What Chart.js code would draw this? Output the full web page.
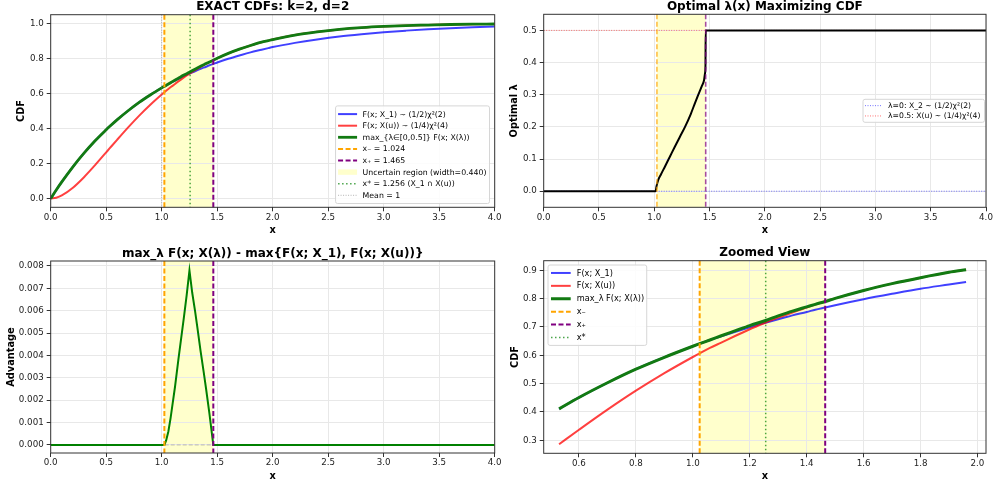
<!DOCTYPE html>
<html>
<head>
<meta charset="utf-8">
<script src="https://cdn.jsdelivr.net/npm/chart.js@4/dist/chart.umd.min.js"></script>
<style>
  html, body { margin: 0; padding: 0; background: #fff; overflow: hidden; width: 993px; height: 486px; position: relative; }
  canvas { position: absolute; }
</style>
</head>
<body>
<canvas id="cdf"  width="510" height="243" style="left:0px;top:0px"></canvas>
<canvas id="lam"  width="510" height="243" style="left:496px;top:0px"></canvas>
<canvas id="adv"  width="510" height="243" style="left:0px;top:243px"></canvas>
<canvas id="zoom" width="510" height="243" style="left:496px;top:243px"></canvas>
<script>
// ---- data -------------------------------------------------------------
const xGrid   = [0, 0.05, 0.1, 0.2, 0.3, 0.4, 0.5, 0.53, 0.6, 0.7, 0.8, 0.9, 1.0, 1.024, 1.06, 1.1, 1.15, 1.2, 1.25, 1.3, 1.35, 1.4, 1.43, 1.465, 1.5, 1.6, 1.7, 1.8, 1.9, 1.96, 2.0, 2.2, 2.4, 2.6, 2.8, 3.0, 3.2, 3.4, 3.6, 3.8, 4.0];
const cdfX1   = [0, 0.049, 0.095, 0.181, 0.259, 0.330, 0.393, 0.411, 0.451, 0.503, 0.551, 0.593, 0.632, 0.641, 0.654, 0.667, 0.683, 0.699, 0.714, 0.727, 0.741, 0.753, 0.761, 0.769, 0.777, 0.798, 0.817, 0.835, 0.850, 0.859, 0.865, 0.889, 0.909, 0.926, 0.939, 0.950, 0.959, 0.967, 0.973, 0.978, 0.982];
const cdfXu   = [0, 0.005, 0.018, 0.062, 0.122, 0.191, 0.264, 0.286, 0.337, 0.408, 0.475, 0.537, 0.594, 0.607, 0.626, 0.645, 0.669, 0.692, 0.713, 0.733, 0.751, 0.769, 0.779, 0.790, 0.801, 0.829, 0.853, 0.874, 0.893, 0.902, 0.908, 0.934, 0.952, 0.966, 0.976, 0.983, 0.988, 0.991, 0.994, 0.996, 0.997];
const cdfMax  = [0, 0.049, 0.095, 0.181, 0.259, 0.330, 0.393, 0.411, 0.451, 0.503, 0.551, 0.593, 0.632, 0.641, 0.654, 0.669, 0.687, 0.705, 0.721, 0.739, 0.756, 0.771, 0.780, 0.790, 0.801, 0.829, 0.853, 0.874, 0.893, 0.902, 0.908, 0.934, 0.952, 0.966, 0.976, 0.983, 0.988, 0.991, 0.994, 0.996, 0.997];

const advX      = [0, 1.0, 1.024, 1.04, 1.06, 1.08, 1.1, 1.12, 1.15, 1.2, 1.225, 1.25, 1.275, 1.3, 1.32, 1.35, 1.38, 1.4, 1.43, 1.45, 1.465, 1.5, 4.0];
const advValues = [0, 0, 0, 0.0002, 0.0006, 0.0012, 0.0019, 0.0026, 0.0038, 0.0057, 0.0067, 0.0078, 0.0068, 0.0060, 0.0053, 0.0042, 0.0032, 0.0025, 0.0014, 0.0006, 0, 0, 0];

const lamX      = [0, 1.012, 1.02, 1.036, 1.06, 1.097, 1.142, 1.187, 1.23, 1.278, 1.33, 1.368, 1.392, 1.429, 1.45, 1.458, 1.463, 1.465, 4.0];
const lamValues = [0, 0, 0.015, 0.035, 0.052, 0.077, 0.108, 0.139, 0.168, 0.2, 0.24, 0.274, 0.295, 0.326, 0.345, 0.365, 0.39, 0.5, 0.5];
const lamLevels = [0, 0.5];

const xMinus = 1.024, xPlus = 1.465, xStar = 1.256, meanX = 1;
const zoomFrom = 0.53, zoomTo = 1.96;

const xTicksFull = [0, 0.5, 1.0, 1.5, 2.0, 2.5, 3.0, 3.5, 4.0];
const xTicksZoom = [0.6, 0.8, 1.0, 1.2, 1.4, 1.6, 1.8, 2.0];
const yTicksCdf  = [0, 0.2, 0.4, 0.6, 0.8, 1.0];
const yTicksLam  = [0, 0.1, 0.2, 0.3, 0.4, 0.5];
const yTicksAdv  = [0, 0.001, 0.002, 0.003, 0.004, 0.005, 0.006, 0.007, 0.008];
const yTicksZoom = [0.3, 0.4, 0.5, 0.6, 0.7, 0.8, 0.9];

const titles = ['EXACT CDFs: k=2, d=2', 'Optimal λ(x) Maximizing CDF', 'max_λ F(x; X(λ)) - max{F(x; X_1), F(x; X(u))}', 'Zoomed View'];
const cdfLegend  = ['F(x; X_1) ~ (1/2)χ²(2)', 'F(x; X(u)) ~ (1/4)χ²(4)', 'max_{λ∈[0,0.5]} F(x; X(λ))', 'x₋ = 1.024', 'x₊ = 1.465', 'Uncertain region (width=0.440)', 'x* = 1.256 (X_1 ∩ X(u))', 'Mean = 1'];
const lamLegend  = ['λ=0: X_2 ~ (1/2)χ²(2)', 'λ=0.5: X(u) ~ (1/4)χ²(4)'];
const zoomLegend = ['F(x; X_1)', 'F(x; X(u))', 'max_λ F(x; X(λ))', 'x₋', 'x₊', 'x*'];

// ---- styles -----------------------------------------------------------
const FONT = '"DejaVu Sans", sans-serif';
Chart.defaults.font.family = FONT;
Chart.defaults.color = '#222';

const ST = {
  blue:   { color: 'rgba(0,0,255,0.75)', width: 2 },
  red:    { color: 'rgba(255,0,0,0.75)', width: 2 },
  green:  { color: 'rgb(18,122,18)', width: 2.8 },
  adv:    { color: 'rgb(0,128,0)', width: 2 },
  black:  { color: '#000', width: 2 },
  orange: { color: '#ffa500', width: 2, dash: [5, 2.5] },
  purple: { color: '#800080', width: 2, dash: [5, 2.5] },
  orangeSoft: { color: 'rgba(255,165,0,0.7)', width: 1.6, dash: [5, 2.5] },
  purpleSoft: { color: 'rgba(128,0,128,0.7)', width: 1.6, dash: [5, 2.5] },
  star:   { color: 'rgba(0,128,0,0.7)', width: 1.5, dash: [1.5, 2.5] },
  mean:   { color: 'rgba(128,128,128,0.6)', width: 1, dash: [1, 1.5] },
  lam0:   { color: 'rgba(0,0,255,0.55)', width: 1, dash: [1, 1.5] },
  lam5:   { color: 'rgba(255,0,0,0.55)', width: 1, dash: [1, 1.5] },
  zero:   { color: 'rgba(128,128,128,0.5)', width: 1, dash: [4, 2] },
  span:   { fill: 'rgba(255,255,0,0.2)' }
};

function pts(xs, ys, from, to) {
  const out = [];
  xs.forEach((x, i) => { if (from === undefined || (x >= from - 1e-9 && x <= to + 1e-9)) out.push({ x, y: ys[i] }); });
  return out;
}

function line(data, st, order) {
  return { data, borderColor: st.color, borderWidth: st.width, pointRadius: 0, fill: false,
           cubicInterpolationMode: 'monotone', order };
}

function setDash(ctx, st) { ctx.setLineDash(st.dash || []); ctx.strokeStyle = st.color; ctx.lineWidth = st.width; }

function decor(spec) {
  return {
    id: 'decor',
    beforeDraw(chart) {
      const { ctx, chartArea: a, scales: { x } } = chart;
      if (spec.span) {
        const l = x.getPixelForValue(spec.span[0]), r = x.getPixelForValue(spec.span[1]);
        ctx.save(); ctx.fillStyle = ST.span.fill; ctx.fillRect(l, a.top, r - l, a.bottom - a.top); ctx.restore();
      }
    },
    beforeDatasetsDraw(chart) {
      const { ctx, chartArea: a, scales: { y } } = chart;
      (spec.hlines || []).forEach(h => {
        const py = y.getPixelForValue(h.value);
        ctx.save(); setDash(ctx, h.st); ctx.beginPath(); ctx.moveTo(a.left, py); ctx.lineTo(a.right, py); ctx.stroke(); ctx.restore();
      });
    },
    afterDatasetsDraw(chart) {
      const { ctx, chartArea: a, scales: { x } } = chart;
      (spec.vlines || []).forEach(v => {
        const px = x.getPixelForValue(v.value);
        ctx.save(); setDash(ctx, v.st); ctx.beginPath(); ctx.moveTo(px, a.top); ctx.lineTo(px, a.bottom); ctx.stroke(); ctx.restore();
      });
      ctx.save(); ctx.strokeStyle = '#333'; ctx.lineWidth = 1; ctx.setLineDash([]);
      ctx.strokeRect(a.left, a.top, a.right - a.left, a.bottom - a.top); ctx.restore();
    },
    afterDraw(chart) {
      const { ctx, chartArea: a } = chart;
      ctx.save();
      ctx.font = 'bold 12px ' + FONT; ctx.fillStyle = '#000'; ctx.textAlign = 'center'; ctx.textBaseline = 'alphabetic';
      ctx.fillText(spec.title, (a.left + a.right) / 2, a.top - 4.5);
      ctx.restore();
      if (spec.legend) drawLegend(ctx, a, spec.legend);
    }
  };
}

function drawLegend(ctx, a, L) {
  ctx.save();
  ctx.font = L.size + 'px ' + FONT;
  const tw = Math.max(...L.items.map(it => ctx.measureText(it.label).width));
  const w = L.padL + L.handle + L.gap + tw + L.padR;
  const h = L.pad * 2 + L.row * L.items.length;
  let left, top;
  if (L.anchor === 'lower right') { left = a.right - L.mx - w; top = a.bottom - L.my - h; }
  else if (L.anchor === 'center right') { left = a.right - L.mx - w; top = (a.top + a.bottom) / 2 - h / 2; }
  else { left = a.left + L.mx; top = a.top + L.my; }
  ctx.fillStyle = 'rgba(255,255,255,0.85)'; ctx.strokeStyle = '#d6d6d6'; ctx.lineWidth = 1;
  ctx.beginPath(); ctx.roundRect(left, top, w, h, 2); ctx.fill(); ctx.stroke();
  L.items.forEach((it, i) => {
    const cy = top + L.pad + L.row * (i + 0.5);
    const hx = left + L.padL;
    if (it.patch) {
      ctx.fillStyle = it.patch; ctx.fillRect(hx, cy - L.size * 0.35, L.handle, L.size * 0.7);
    } else {
      ctx.save(); setDash(ctx, it.st); ctx.beginPath(); ctx.moveTo(hx, cy); ctx.lineTo(hx + L.handle, cy); ctx.stroke(); ctx.restore();
    }
    ctx.fillStyle = '#000'; ctx.textAlign = 'left'; ctx.textBaseline = 'middle';
    ctx.fillText(it.label, hx + L.handle + L.gap, cy + 0.5);
  });
  ctx.restore();
}

function xScale(min, max, ticks, height, titlePad) {
  return {
    type: 'linear', min, max,
    afterBuildTicks: s => { s.ticks = ticks.map(v => ({ value: v })); },
    afterFit: s => { s.height = height; },
    ticks: { callback: v => Number(v).toFixed(1), font: { size: 8.7 }, color: '#222', padding: 1, maxRotation: 0, autoSkip: false },
    grid: { color: '#e8e8e8', lineWidth: 1, tickColor: '#333', tickLength: 4, tickWidth: 1 },
    border: { display: false },
    title: { display: true, text: 'x', font: { size: 9.8, weight: 'bold' }, color: '#000', padding: { top: 0, bottom: titlePad } }
  };
}

function yScale(min, max, ticks, dec, label, width, titlePad) {
  return {
    type: 'linear', min, max,
    afterBuildTicks: s => { s.ticks = ticks.map(v => ({ value: v })); },
    afterFit: s => { s.width = width; },
    ticks: { callback: v => Number(v).toFixed(dec), font: { size: 8.7 }, color: '#222', padding: 3, autoSkip: false },
    grid: { color: '#e8e8e8', lineWidth: 1, tickColor: '#333', tickLength: 4, tickWidth: 1 },
    border: { display: false },
    title: { display: true, text: label, font: { size: 9.8, weight: 'bold' }, color: '#000', padding: { top: titlePad, bottom: 0 } }
  };
}

function baseOptions(pad, scales) {
  return {
    responsive: false, animation: false, devicePixelRatio: 1, events: [],
    layout: { padding: pad },
    plugins: { legend: { display: false }, tooltip: { enabled: false }, title: { display: false } },
    scales
  };
}

// ---- panel 1: CDFs ----------------------------------------------------
new Chart(document.getElementById('cdf'), {
  type: 'line',
  data: { datasets: [
    line(pts(xGrid, cdfX1), ST.blue, 3),
    line(pts(xGrid, cdfXu), ST.red, 2),
    line(pts(xGrid, cdfMax), ST.green, 1)
  ] },
  options: baseOptions({ left: 0, top: 14.7, right: 15.3, bottom: 0 }, {
    x: xScale(0, 4, xTicksFull, 35.7, 7.1),
    y: yScale(-0.05, 1.05, yTicksCdf, 1, 'CDF', 50.7, 15.8)
  }),
  plugins: [decor({
    title: titles[0],
    span: [xMinus, xPlus],
    vlines: [{ value: meanX, st: ST.mean }, { value: xMinus, st: ST.orange }, { value: xPlus, st: ST.purple }, { value: xStar, st: ST.star }],
    legend: { anchor: 'lower right', mx: 5.2, my: 3.8, size: 7.8, row: 11.6, pad: 2.4, padL: 2.5, handle: 19, gap: 5.5, padR: 3,
      items: [
        { label: cdfLegend[0], st: ST.blue }, { label: cdfLegend[1], st: ST.red }, { label: cdfLegend[2], st: ST.green },
        { label: cdfLegend[3], st: ST.orange }, { label: cdfLegend[4], st: ST.purple }, { label: cdfLegend[5], patch: ST.span.fill },
        { label: cdfLegend[6], st: ST.star }, { label: cdfLegend[7], st: ST.mean }
      ] }
  })]
});

// ---- panel 2: optimal lambda -----------------------------------------
new Chart(document.getElementById('lam'), {
  type: 'line',
  data: { datasets: [ line(pts(lamX, lamValues), ST.black, 1) ] },
  options: baseOptions({ left: 0, top: 14.3, right: 20, bottom: 0 }, {
    x: xScale(0, 4, xTicksFull, 35.7, 7.1),
    y: yScale(-0.05, 0.55, yTicksLam, 1, 'Optimal λ', 47.7, 12.8)
  }),
  plugins: [decor({
    title: titles[1],
    span: [xMinus, xPlus],
    hlines: [{ value: lamLevels[0], st: ST.lam0 }, { value: lamLevels[1], st: ST.lam5 }],
    vlines: [{ value: xMinus, st: ST.orangeSoft }, { value: xPlus, st: ST.purpleSoft }],
    legend: { anchor: 'center right', mx: 1.5, my: 0, size: 7.7, row: 10.3, pad: 1.2, padL: 2, handle: 16, gap: 7, padR: 4,
      items: [ { label: lamLegend[0], st: ST.lam0 }, { label: lamLegend[1], st: ST.lam5 } ] }
  })]
});

// ---- panel 3: advantage ----------------------------------------------
new Chart(document.getElementById('adv'), {
  type: 'line',
  data: { datasets: [ { ...line(pts(advX, advValues), ST.adv, 1), cubicInterpolationMode: 'default', tension: 0 } ] },
  options: baseOptions({ left: 0, top: 18, right: 15.3, bottom: 0 }, {
    x: xScale(0, 4, xTicksFull, 33, 3.4),
    y: yScale(-0.00036, 0.00822, yTicksAdv, 3, 'Advantage', 50.7, 5.3)
  }),
  plugins: [decor({
    title: titles[2],
    span: [xMinus, xPlus],
    hlines: [{ value: 0, st: ST.zero }],
    vlines: [{ value: xMinus, st: ST.orange }, { value: xPlus, st: ST.purple }]
  })]
});

// ---- panel 4: zoomed view ---------------------------------------------
new Chart(document.getElementById('zoom'), {
  type: 'line',
  data: { datasets: [
    line(pts(xGrid, cdfX1, zoomFrom, zoomTo), ST.blue, 3),
    line(pts(xGrid, cdfXu, zoomFrom, zoomTo), ST.red, 2),
    line(pts(xGrid, cdfMax, zoomFrom, zoomTo), { color: ST.green.color, width: 3 }, 1)
  ] },
  options: baseOptions({ left: 0, top: 17.7, right: 20, bottom: 0 }, {
    x: xScale(0.476, 2.03, xTicksZoom, 32.7, 3.4),
    y: yScale(0.254, 0.934, yTicksZoom, 1, 'CDF', 47.7, 13.1)
  }),
  plugins: [decor({
    title: titles[3],
    span: [xMinus, xPlus],
    vlines: [{ value: xMinus, st: ST.orange }, { value: xPlus, st: ST.purple }, { value: xStar, st: ST.star }],
    legend: { anchor: 'upper left', mx: 4.3, my: 4.3, size: 8.2, row: 12.9, pad: 1.5, padL: 3, handle: 19.7, gap: 6, padR: 2.5,
      items: [
        { label: zoomLegend[0], st: ST.blue }, { label: zoomLegend[1], st: ST.red }, { label: zoomLegend[2], st: { color: ST.green.color, width: 3 } },
        { label: zoomLegend[3], st: ST.orange }, { label: zoomLegend[4], st: ST.purple }, { label: zoomLegend[5], st: ST.star }
      ] }
  })]
});
</script>
</body>
</html>
